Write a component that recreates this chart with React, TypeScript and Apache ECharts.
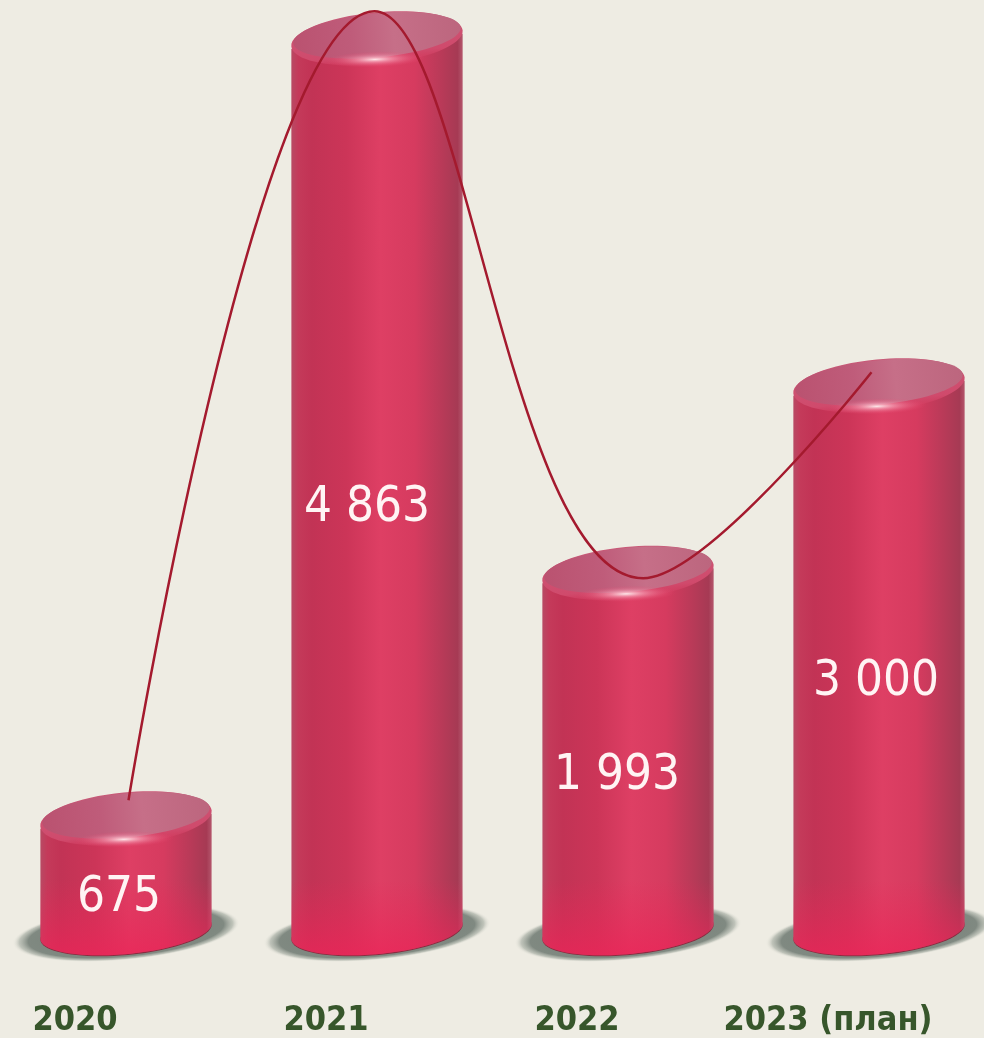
import React, { useEffect, useRef } from "react";
import * as echarts from "echarts";

const categories = ["2020", "2021", "2022", "2023 (план)"];
const values = [675, 4863, 1993, 3000];
const trendValues = [756, 4993, 1948, 3054];
const trendPositions = [0.01, 0.99, 2.06, 2.97];

const AXIS_MAX = 5053;
const TILT_DEG = 5.4;
const TILT = (TILT_DEG * Math.PI) / 180;
const A = 86;
const B = 23;
const labelDx = [-7, -10, -11, -3];

const ext = Math.sqrt(A * A * Math.cos(TILT) ** 2 + B * B * Math.sin(TILT) ** 2);
const edgeDy = ((A * A - B * B) * Math.sin(TILT) * Math.cos(TILT)) / ext;

const fmt = (v: number) => String(v).replace(/\B(?=(\d{3})+$)/g, " ");

function bodyPoints(cx: number, ty: number, by: number) {
  const pts: number[][] = [[cx - ext, ty + edgeDy + 6]];
  const t0 = Math.atan2(-B * Math.sin(TILT), A * Math.cos(TILT));
  for (let k = 0; k <= 48; k++) {
    const th = Math.PI + t0 - (k / 48) * Math.PI;
    const ex = A * Math.cos(th);
    const ey = B * Math.sin(th);
    pts.push([cx + ex * Math.cos(TILT) + ey * Math.sin(TILT), by - ex * Math.sin(TILT) + ey * Math.cos(TILT)]);
  }
  pts.push([cx + ext, ty - edgeDy + 6]);
  return pts;
}

function renderCylinder(params: any, api: any) {
  const i = params.dataIndex;
  const v = api.value(1);
  const top = api.coord([i, v]);
  const zero = api.coord([i, 0]);
  const cx = top[0];
  const ty = top[1];
  const by = zero[1] - 10;
  const h = by - ty;
  const points = bodyPoints(cx, ty, by);
  const fadeStart = Math.max(0, 1 - 75 / (h + B));

  return {
    type: "group",
    children: [
      {
        type: "ellipse",
        x: cx,
        y: by + 2,
        rotation: TILT,
        shape: { cx: 0, cy: 0, rx: 114, ry: 27 },
        style: {
          fill: {
            type: "radial",
            x: 0.5,
            y: 0.5,
            r: 0.5,
            colorStops: [
              { offset: 0, color: "rgba(112,122,114,1)" },
              { offset: 0.86, color: "rgba(122,132,124,0.95)" },
              { offset: 0.94, color: "rgba(160,168,158,0.6)" },
              { offset: 1, color: "rgba(238,236,227,0)" },
            ],
          },
        },
      },
      {
        type: "ellipse",
        x: cx,
        y: by + 1,
        rotation: TILT,
        shape: { cx: 0, cy: 0, rx: A, ry: B },
        style: { fill: "#8A2C40" },
      },
      {
        type: "polygon",
        shape: { points },
        style: {
          fill: {
            type: "linear",
            x: 0,
            y: 0,
            x2: 1,
            y2: 0,
            colorStops: [
              { offset: 0, color: "#B84A64" },
              { offset: 0.04, color: "#C43A5A" },
              { offset: 0.12, color: "#C23355" },
              { offset: 0.32, color: "#CC3558" },
              { offset: 0.52, color: "#DE3F64" },
              { offset: 0.72, color: "#D63B5F" },
              { offset: 0.88, color: "#B83A58" },
              { offset: 0.97, color: "#A63A54" },
              { offset: 1, color: "#B4566C" },
            ],
          },
        },
      },
      {
        type: "polygon",
        shape: { points },
        style: {
          fill: {
            type: "linear",
            x: 0,
            y: 0,
            x2: 0,
            y2: 1,
            colorStops: [
              { offset: 0, color: "rgba(232,40,88,0)" },
              { offset: fadeStart, color: "rgba(232,40,88,0)" },
              { offset: 1, color: "rgba(236,36,88,0.75)" },
            ],
          },
        },
      },
      {
        type: "ellipse",
        x: cx,
        y: ty + 3,
        rotation: TILT,
        shape: { cx: 0, cy: 0, rx: A, ry: B + 3 },
        style: {
          fill: {
            type: "linear",
            x: 0,
            y: 0,
            x2: 0,
            y2: 1,
            colorStops: [
              { offset: 0, color: "#C85A78" },
              { offset: 0.8, color: "#D04A6C" },
              { offset: 1, color: "rgba(216,64,100,0.2)" },
            ],
          },
        },
      },
      {
        type: "ellipse",
        x: cx,
        y: ty,
        rotation: TILT,
        shape: { cx: 0, cy: 0, rx: A - 2, ry: B - 1 },
        style: {
          fill: {
            type: "linear",
            x: 0,
            y: 0,
            x2: 1,
            y2: 0,
            colorStops: [
              { offset: 0, color: "#BA5270" },
              { offset: 0.35, color: "#BF5C7A" },
              { offset: 0.6, color: "#C66F88" },
              { offset: 1, color: "#BC667E" },
            ],
          },
        },
      },
      {
        type: "ellipse",
        x: cx - 2,
        y: ty + 24,
        rotation: 0.03,
        shape: { cx: 0, cy: 0, rx: 50, ry: 8 },
        style: {
          fill: {
            type: "radial",
            x: 0.5,
            y: 0.5,
            r: 0.5,
            colorStops: [
              { offset: 0, color: "rgba(255,240,240,0.95)" },
              { offset: 0.35, color: "rgba(250,170,190,0.6)" },
              { offset: 1, color: "rgba(230,70,110,0)" },
            ],
          },
        },
      },
      {
        type: "text",
        x: cx + labelDx[i],
        y: (ty + by) / 2 + 21,
        scaleY: 1.03,
        style: {
          text: fmt(v),
          fill: "#FFF4F4",
          font: '49px "DejaVu Sans Condensed", "DejaVu Sans", sans-serif',
          align: "center",
          verticalAlign: "middle",
        },
      },
    ],
  };
}

export default function App() {
  const ref = useRef<HTMLDivElement>(null);
  useEffect(() => {
    document.body.style.margin = "0";
    document.body.style.background = "#EEECE3";
    const chart = echarts.init(ref.current!, undefined, { renderer: "svg" });
    chart.setOption({
      animation: false,
      backgroundColor: "#EEECE3",
      grid: { left: 0.5, top: 0, width: 1004, height: 941, outerBoundsMode: "none" },
      xAxis: [
        {
          type: "category",
          data: categories,
          boundaryGap: true,
          axisLine: { show: false },
          axisTick: { show: false },
          axisLabel: {
            interval: 0,
            margin: 60,
            padding: [0, 102, 0, 0],
            color: "#37562B",
            fontFamily: '"DejaVu Sans Condensed", "DejaVu Sans", sans-serif',
            fontWeight: "bold",
            fontSize: 34,
          },
        },
        { type: "value", min: -0.5, max: 3.5, show: false },
      ],
      yAxis: { type: "value", min: 0, max: AXIS_MAX, show: false },
      series: [
        {
          type: "custom",
          clip: false,
          z: 2,
          encode: { x: 0, y: 1 },
          data: values.map((v, i) => [i, v]),
          renderItem: renderCylinder,
        },
        {
          type: "line",
          xAxisIndex: 1,
          z: 5,
          clip: false,
          smooth: 0.4,
          symbol: "none",
          lineStyle: { color: "#A41A2E", width: 2.5 },
          data: trendValues.map((v, i) => [trendPositions[i], v]),
        },
      ],
    });
    return () => chart.dispose();
  }, []);
  return (
    <div
      ref={ref}
      style={{ position: "absolute", left: 0, top: 0, width: 984, height: 1038, filter: "blur(0.7px)" }}
    />
  );
}
